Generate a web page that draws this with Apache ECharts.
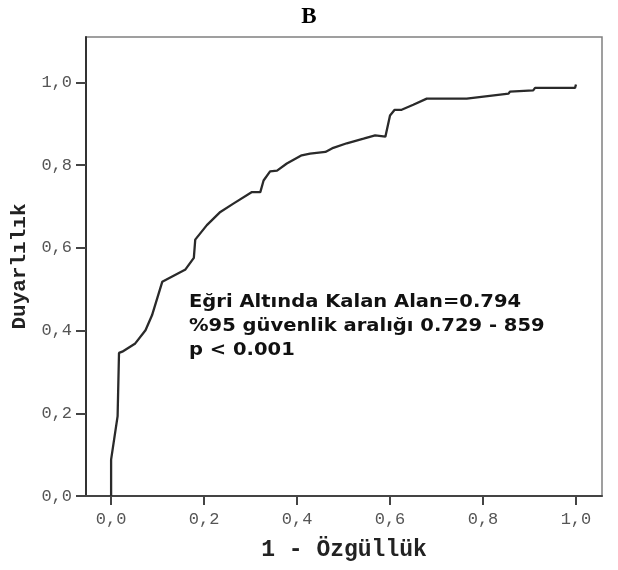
<!DOCTYPE html>
<html>
<head>
<meta charset="utf-8">
<script src="https://cdn.jsdelivr.net/npm/echarts@6/dist/echarts.min.js"></script>
<style>
html,body{margin:0;padding:0;background:#fff;}
#chart{width:618px;height:570px;}
</style>
</head>
<body>
<div id="chart"></div>
<script>
// ROC curve points: 1 - specificity (x) and sensitivity (y)
var fpr = [0, 0, 0.014, 0.017, 0.024, 0.052, 0.074, 0.088, 0.110, 0.160, 0.178, 0.181, 0.206, 0.235, 0.263, 0.303, 0.321, 0.328, 0.342, 0.357, 0.378, 0.410, 0.428, 0.461, 0.478, 0.507, 0.543, 0.568, 0.590, 0.600, 0.610, 0.625, 0.650, 0.679, 0.765, 0.768, 0.855, 0.858, 0.908, 0.912, 0.998, 1.0];
var tpr = [0, 0.088, 0.193, 0.346, 0.349, 0.369, 0.401, 0.437, 0.518, 0.548, 0.576, 0.620, 0.655, 0.687, 0.707, 0.735, 0.735, 0.763, 0.785, 0.787, 0.804, 0.824, 0.828, 0.832, 0.842, 0.853, 0.864, 0.872, 0.869, 0.920, 0.934, 0.934, 0.946, 0.961, 0.961, 0.965, 0.973, 0.978, 0.981, 0.987, 0.987, 0.995];
var xTicks = [0, 0.2, 0.4, 0.6, 0.8, 1.0];
var yTicks = [0, 0.2, 0.4, 0.6, 0.8, 1.0];
var titleText = 'B';
var xName = '1 - Özgüllük';
var yName = 'Duyarlılık';
var noteLines = ['Eğri Altında Kalan Alan=0.794', '%95 güvenlik aralığı 0.729 - 859', 'p < 0.001'];

var points = fpr.map(function (x, i) { return [x, tpr[i]]; });
function fmt(v) { return v.toFixed(1).replace('.', ','); }

var chart = echarts.init(document.getElementById('chart'), null, {renderer: 'canvas'});
chart.setOption({
  animation: false,
  backgroundColor: '#ffffff',
  title: {
    text: titleText,
    left: 'center',
    top: 1,
    textStyle: {fontFamily: 'Liberation Serif', fontWeight: 'bold', fontSize: 23, color: '#000'}
  },
  grid: {
    left: 86, right: 16, top: 37, bottom: 74,
    show: true, borderColor: '#808080', borderWidth: 1.5, backgroundColor: 'transparent'
  },
  xAxis: {
    type: 'value',
    min: -0.054, max: 1.056,
    name: xName,
    nameLocation: 'middle',
    nameGap: 43,
    nameTextStyle: {fontFamily: 'Liberation Mono', fontWeight: 'bold', fontSize: 23, color: '#222'},
    axisLine: {show: true, onZero: false, lineStyle: {color: '#444', width: 2}},
    axisTick: {show: true, inside: false, length: 9, customValues: xTicks, lineStyle: {color: '#444', width: 2}},
    axisLabel: {customValues: xTicks, formatter: fmt, margin: 15, fontFamily: 'Liberation Mono', fontSize: 17, color: '#555'},
    splitLine: {show: false}
  },
  yAxis: {
    type: 'value',
    min: 0, max: 1.11,
    name: yName,
    nameLocation: 'middle',
    nameGap: 47,
    nameTextStyle: {fontFamily: 'Liberation Mono', fontWeight: 'bold', fontSize: 21, color: '#222'},
    axisLine: {show: true, onZero: false, lineStyle: {color: '#333', width: 2}},
    axisTick: {show: true, inside: false, length: 10, customValues: yTicks, lineStyle: {color: '#444', width: 2}},
    axisLabel: {customValues: yTicks, formatter: fmt, margin: 14, fontFamily: 'Liberation Mono', fontSize: 17, color: '#555'},
    splitLine: {show: false}
  },
  graphic: [{
    type: 'text',
    x: 189, y: 290,
    scaleX: 1.085,
    style: {
      text: noteLines.join('\n'),
      fontFamily: 'DejaVu Sans',
      fontWeight: 'bold',
      fontSize: 18,
      lineHeight: 24,
      fill: '#111',
      textVerticalAlign: 'top'
    }
  }],
  series: [{
    type: 'line',
    data: points,
    symbol: 'none',
    lineStyle: {color: '#2a2a2a', width: 2.3},
    z: 3
  }]
});
</script>
</body>
</html>
